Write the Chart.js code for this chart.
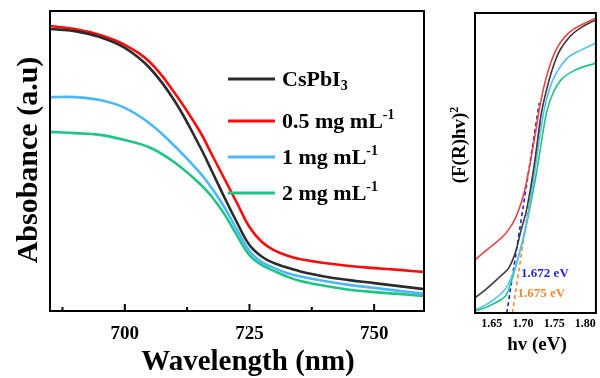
<!DOCTYPE html>
<html><head><meta charset="utf-8">
<script src="https://cdn.jsdelivr.net/npm/chart.js@4.4.0/dist/chart.umd.min.js"></script>
<style>
html,body{margin:0;padding:0;background:#fff;}
#wrap{position:relative;width:600px;height:378px;overflow:hidden;background:#fff;}
#c1{position:absolute;left:0;top:0;}
#c2{position:absolute;left:440px;top:0;}
</style></head><body>
<div id="wrap"><canvas id="c1" width="440" height="378"></canvas><canvas id="c2" width="160" height="378"></canvas></div>
<script>
// ---------- Left panel: absorbance ----------
const wavelengths = [685,690,695,700,705,710,715,717.5,720,722.5,725,727.5,730,732.5,735,740,745,750,755,760];
const absCsPbI3 = [0.940,0.933,0.913,0.877,0.810,0.700,0.550,0.465,0.378,0.295,0.220,0.181,0.159,0.145,0.133,0.115,0.103,0.093,0.083,0.073];
const abs05     = [0.950,0.940,0.920,0.887,0.830,0.727,0.600,0.520,0.440,0.360,0.280,0.230,0.202,0.185,0.173,0.160,0.150,0.143,0.137,0.130];
const abs1      = [0.713,0.713,0.703,0.677,0.625,0.550,0.462,0.408,0.345,0.270,0.200,0.163,0.143,0.127,0.116,0.100,0.087,0.077,0.067,0.057];
const abs2      = [0.597,0.593,0.587,0.570,0.545,0.495,0.425,0.380,0.322,0.252,0.186,0.153,0.133,0.115,0.101,0.084,0.071,0.063,0.057,0.050];
const seriesLabels = ['CsPbI_{3}','0.5 mg mL^{-1}','1 mg mL^{-1}','2 mg mL^{-1}'];
const wlTicks = [687.5,700,712.5,725,737.5,750];
const wlTickLabels = ['','700','','725','','750'];

// ---------- Right panel: Tauc plot ----------
const hvRed   = [1.623,1.640,1.652,1.665,1.675,1.688,1.699,1.706,1.713,1.720,1.726,1.737,1.753,1.773,1.800,1.817];
const taucRed = [0.177,0.207,0.227,0.250,0.272,0.317,0.380,0.440,0.517,0.600,0.677,0.783,0.877,0.933,0.967,0.983];
const hvBlack   = [1.623,1.640,1.652,1.665,1.678,1.689,1.697,1.705,1.718,1.729,1.742,1.757,1.776,1.800,1.817];
const taucBlack = [0.050,0.078,0.100,0.125,0.153,0.210,0.277,0.337,0.493,0.660,0.777,0.867,0.923,0.960,0.977];
const hvBlue   = [1.623,1.640,1.652,1.665,1.674,1.686,1.697,1.705,1.718,1.734,1.746,1.768,1.794,1.817];
const taucBlue = [0.010,0.027,0.043,0.065,0.087,0.143,0.220,0.293,0.460,0.677,0.767,0.843,0.877,0.900];
const hvGreen   = [1.623,1.640,1.652,1.665,1.674,1.683,1.694,1.705,1.721,1.738,1.749,1.761,1.784,1.817];
const taucGreen = [0.007,0.018,0.030,0.045,0.063,0.117,0.197,0.290,0.460,0.670,0.737,0.777,0.810,0.833];
const fitBlueX = [1.674,1.726], fitBlueY = [0,0.70];
const fitOrangeX = [1.683,1.730], fitOrangeY = [0,0.643];
const hvTicks = [1.65,1.70,1.75,1.80];
const hvTickLabels = ['1.65','1.70','1.75','1.80'];
const gapLabels = [{text:'1.672 eV', x:1.697, y:0.133, color:'#1f1fe6'},
                   {text:'1.675 eV', x:1.691, y:0.067, color:'#f28a2e'}];

const FONT = '"Liberation Serif", "Times New Roman", serif';
const colors = ['#2b2b2b','#ff0a0a','#4db8f8','#1fc585'];
const colorsR = ['#3a3a3a','#e84545','#55c0f5','#22c285'];

function drawRich(ctx, text, x, y, size, color, rotate, align) {
  const parts = [];
  text.split(/(\^\{[^}]*\}|_\{[^}]*\})/).forEach(p => {
    if (!p) return;
    if (p.startsWith('^{')) parts.push({t:p.slice(2,-1), k:'sup'});
    else if (p.startsWith('_{')) parts.push({t:p.slice(2,-1), k:'sub'});
    else parts.push({t:p, k:'n'});
  });
  const small = Math.round(size*0.62);
  const fN = `bold ${size}px ${FONT}`, fS = `bold ${small}px ${FONT}`;
  ctx.save();
  let total = 0;
  parts.forEach(p => { ctx.font = p.k==='n'?fN:fS; p.w = ctx.measureText(p.t).width; total += p.w; });
  ctx.translate(x, y);
  if (rotate) ctx.rotate(rotate);
  let cx = align==='center' ? -total/2 : 0;
  ctx.fillStyle = color; ctx.textBaseline = 'alphabetic'; ctx.textAlign = 'left';
  const base = size*0.33;
  parts.forEach(p => {
    ctx.font = p.k==='n'?fN:fS;
    let dy = base;
    if (p.k==='sup') dy = base - size*0.40;
    if (p.k==='sub') dy = base + size*0.18;
    ctx.fillText(p.t, cx, dy);
    cx += p.w;
  });
  ctx.restore();
}

const leftDecor = {
  id:'leftDecor',
  afterDatasetsDraw(chart) {
    const {ctx, chartArea:a, scales} = chart;
    ctx.save();
    ctx.strokeStyle = '#000'; ctx.lineWidth = 2;
    ctx.strokeRect(a.left, a.top, a.right-a.left, a.bottom-a.top);
    wlTicks.forEach((v,i) => {
      const px = scales.x.getPixelForValue(v);
      const len = wlTickLabels[i] ? 7 : 4;
      ctx.beginPath(); ctx.moveTo(px, a.bottom); ctx.lineTo(px, a.bottom-len); ctx.stroke();
    });
    const rows = [79,121,157,193];
    chart.data.datasets.forEach((ds,i) => {
      ctx.strokeStyle = ds.borderColor; ctx.lineWidth = 3;
      ctx.beginPath(); ctx.moveTo(228, rows[i]); ctx.lineTo(275, rows[i]); ctx.stroke();
      drawRich(ctx, seriesLabels[i], 282, rows[i], 22, '#000', 0, 'left');
    });
    drawRich(ctx, 'Absobance (a.u)', 27, 160, 30, '#000', -Math.PI/2, 'center');
    drawRich(ctx, 'Wavelength (nm)', 248, 360, 29, '#000', 0, 'center');
    ctx.restore();
  }
};

new Chart(document.getElementById('c1'), {
  type:'line',
  data:{
    labels: wavelengths,
    datasets:[absCsPbI3, abs05, abs1, abs2].map((d,i) => ({
      label: seriesLabels[i],
      data: wavelengths.map((w,j) => ({x:w, y:d[j]})),
      borderColor: colors[i], borderWidth: 2.6, pointRadius: 0,
      tension: 0.4, fill:false
    }))
  },
  options:{
    responsive:false, animation:false, devicePixelRatio:1,
    layout:{padding:{top:11, right:16, left:0, bottom:0}},
    plugins:{legend:{display:false}, tooltip:{enabled:false}},
    scales:{
      x:{type:'linear', min:685, max:760,
        afterBuildTicks:(s)=>{ s.ticks = wlTicks.map(v=>({value:v})); },
        afterFit:(s)=>{ s.height = 67; },
        grid:{display:false, drawTicks:false}, border:{display:false},
        ticks:{padding:12, color:'#000', font:{family:FONT, size:19, weight:'bold'},
          maxRotation:0, autoSkip:false,
          callback:(v)=>{ const i = wlTicks.indexOf(v); return i>=0 ? wlTickLabels[i] : ''; }}
      },
      y:{type:'linear', min:0, max:1,
        afterFit:(s)=>{ s.width = 50; },
        grid:{display:false}, border:{display:false}, ticks:{display:false}}
    }
  },
  plugins:[leftDecor]
});

const rightDecor = {
  id:'rightDecor',
  afterDatasetsDraw(chart) {
    const {ctx, chartArea:a, scales} = chart;
    ctx.save();
    ctx.strokeStyle = '#000'; ctx.lineWidth = 2;
    ctx.strokeRect(a.left, a.top, a.right-a.left, a.bottom-a.top);
    gapLabels.forEach(g => {
      drawRich(ctx, g.text, scales.x.getPixelForValue(g.x), scales.y.getPixelForValue(g.y), 13, g.color, 0, 'left');
    });
    drawRich(ctx, '(F(R)hv)^{2}', 19, 145, 19, '#000', -Math.PI/2, 'center');
    drawRich(ctx, 'hv (eV)', 97, 344, 19, '#000', 0, 'center');
    ctx.restore();
  }
};

const pairs = (xs, ys) => xs.map((x,i)=>({x, y:ys[i]}));
new Chart(document.getElementById('c2'), {
  type:'line',
  data:{
    datasets:[
      {data:pairs(hvRed,taucRed), borderColor:colorsR[1]},
      {data:pairs(hvBlack,taucBlack), borderColor:colorsR[0]},
      {data:pairs(hvBlue,taucBlue), borderColor:colorsR[2]},
      {data:pairs(hvGreen,taucGreen), borderColor:colorsR[3]},
      {data:pairs(fitBlueX,fitBlueY), borderColor:'#1f1fe6', borderDash:[4,3], cubicInterpolationMode:'default', tension:0},
      {data:pairs(fitOrangeX,fitOrangeY), borderColor:'#f28a2e', borderDash:[4,3], cubicInterpolationMode:'default', tension:0}
    ].map(d => Object.assign({borderWidth:1.6, pointRadius:0, cubicInterpolationMode:'monotone', fill:false}, d))
  },
  options:{
    responsive:false, animation:false, devicePixelRatio:1,
    layout:{padding:{top:13, right:2, left:0, bottom:0}},
    plugins:{legend:{display:false}, tooltip:{enabled:false}},
    scales:{
      x:{type:'linear', min:1.623, max:1.817,
        afterBuildTicks:(s)=>{ s.ticks = hvTicks.map(v=>({value:v})); },
        afterFit:(s)=>{ s.height = 65; },
        grid:{display:false, drawTicks:false}, border:{display:false},
        ticks:{padding:4, color:'#000', font:{family:FONT, size:12, weight:'bold'},
          maxRotation:0, autoSkip:false,
          callback:(v)=>{ const i = hvTicks.findIndex(t=>Math.abs(t-v)<1e-9); return i>=0 ? hvTickLabels[i] : ''; }}
      },
      y:{type:'linear', min:0, max:1,
        afterFit:(s)=>{ s.width = 35; },
        grid:{display:false}, border:{display:false}, ticks:{display:false}}
    }
  },
  plugins:[rightDecor]
});
</script>
</body></html>
